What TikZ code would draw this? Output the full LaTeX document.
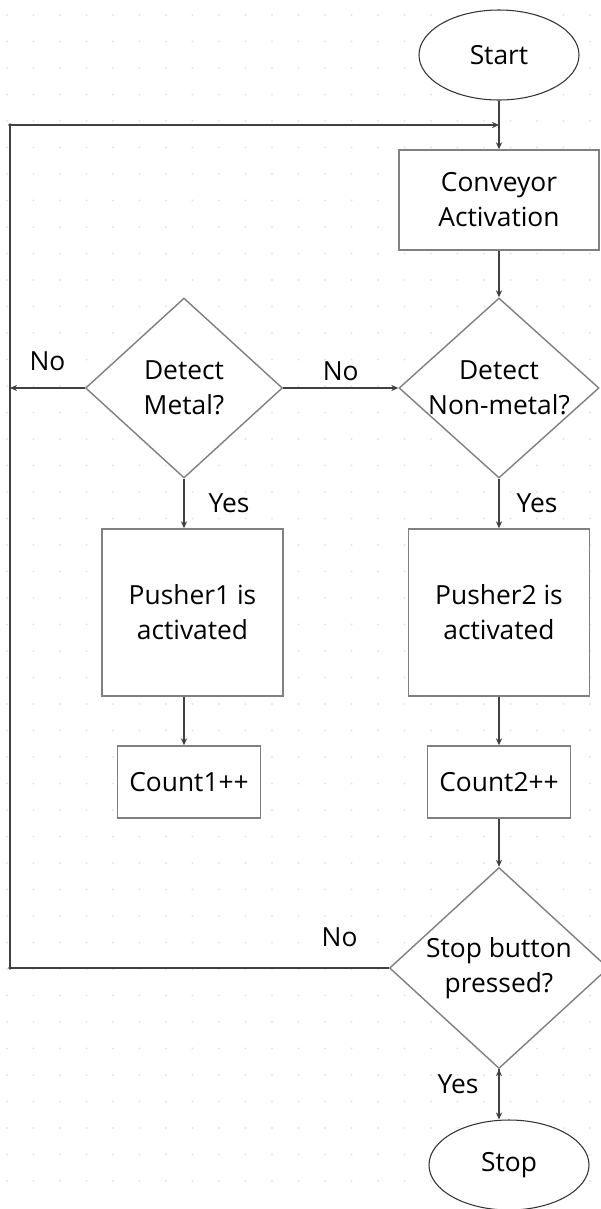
\documentclass[tikz,border=0pt]{standalone}
\usepackage{fontspec}
\setmainfont{Open Sans}
\usetikzlibrary{positioning,shapes.geometric,arrows.meta}

\begin{document}
\begin{tikzpicture}[node distance=3cm, on grid,
    font=\fontsize{15pt}{20pt}\selectfont,
    line/.style={draw=black!75, line width=0.8pt, -{Stealth[length=4pt,width=3.5pt]}},
    block/.style={rectangle, draw=black!50, line width=0.8pt, fill=white, align=center},
    decision/.style={diamond, draw=black!50, line width=0.8pt, fill=white, align=center,
        inner xsep=-0.2cm, inner ysep=0pt},
    term/.style={ellipse, draw=black!80, line width=0.6pt, fill=white,
        minimum width=3.2cm, minimum height=1.8cm}]

    \useasboundingbox[fill=white] (0,0) rectangle (12.02,-24.18);

    % dotted paper
    \foreach \x in {0.14,0.67,...,12.0}
        \foreach \y in {0.3,0.83,...,24.1}
            \fill[black!10] (\x,-\y) circle (0.6pt);

    \node[term] (start) at (9.98,-1.1) {Start};
    \node[block, minimum width=4cm, minimum height=2cm] (conv) [below=2.9cm of start] {Conveyor\\Activation};
    \node[decision, aspect=1.11, minimum width=4cm, minimum height=3.6cm] (nonmetal) [below=3.76cm of conv] {Detect\\Non-metal?};
    \node[decision, aspect=1.09, minimum width=3.94cm, minimum height=3.6cm] (metal) [left=6.3cm of nonmetal] {Detect\\Metal?};
    \node[block, minimum width=3.62cm, minimum height=3.34cm] (push2) [below=4.49cm of nonmetal] {Pusher2 is\\activated};
    \node[block, minimum width=3.62cm, minimum height=3.34cm] (push1) [below=4.49cm of metal, xshift=0.17cm] {Pusher1 is\\activated};
    \node[block, minimum width=2.86cm, minimum height=1.44cm] (count2) [below=3.39cm of push2] {Count2++};
    \node[block, minimum width=2.86cm, minimum height=1.44cm] (count1) [below=3.39cm of push1, xshift=-0.07cm] {Count1++};
    \node[decision, aspect=1.09, minimum width=4.38cm, minimum height=4.02cm] (stopq) [below=3.72cm of count2] {Stop button\\pressed?};
    \node[term] (stop) [below=3.94cm of stopq, xshift=0.2cm] {Stop};

    \coordinate (rail) at (0.2,-2.5);

    \path[line]
        (start) edge (conv)
        (conv) edge (nonmetal)
        (metal) edge node[midway, yshift=0.34cm] {No} (nonmetal)
        (metal) edge node[midway, yshift=0.54cm] {No} (metal -| rail)
        (metal) edge node[midway, xshift=0.9cm] {Yes} (metal |- push1.north)
        (metal |- push1.south) edge (metal |- count1.north)
        (nonmetal) edge node[midway, xshift=0.76cm] {Yes} (push2)
        (push2) edge (count2)
        (count2) edge (stopq)
        (stopq.south) edge node[pos=0.29, xshift=-0.82cm] {Yes} (stopq.south |- stop.north);

    % loop back to the conveyor
    \draw[line] (stopq) -- node[pos=0.13, yshift=0.62cm] {No} (stopq -| rail) -- (rail) -- (rail -| start);
    \fill[black!75] (rail) circle (1.1pt) (stopq -| rail) circle (1.1pt);

\end{tikzpicture}
\end{document}
